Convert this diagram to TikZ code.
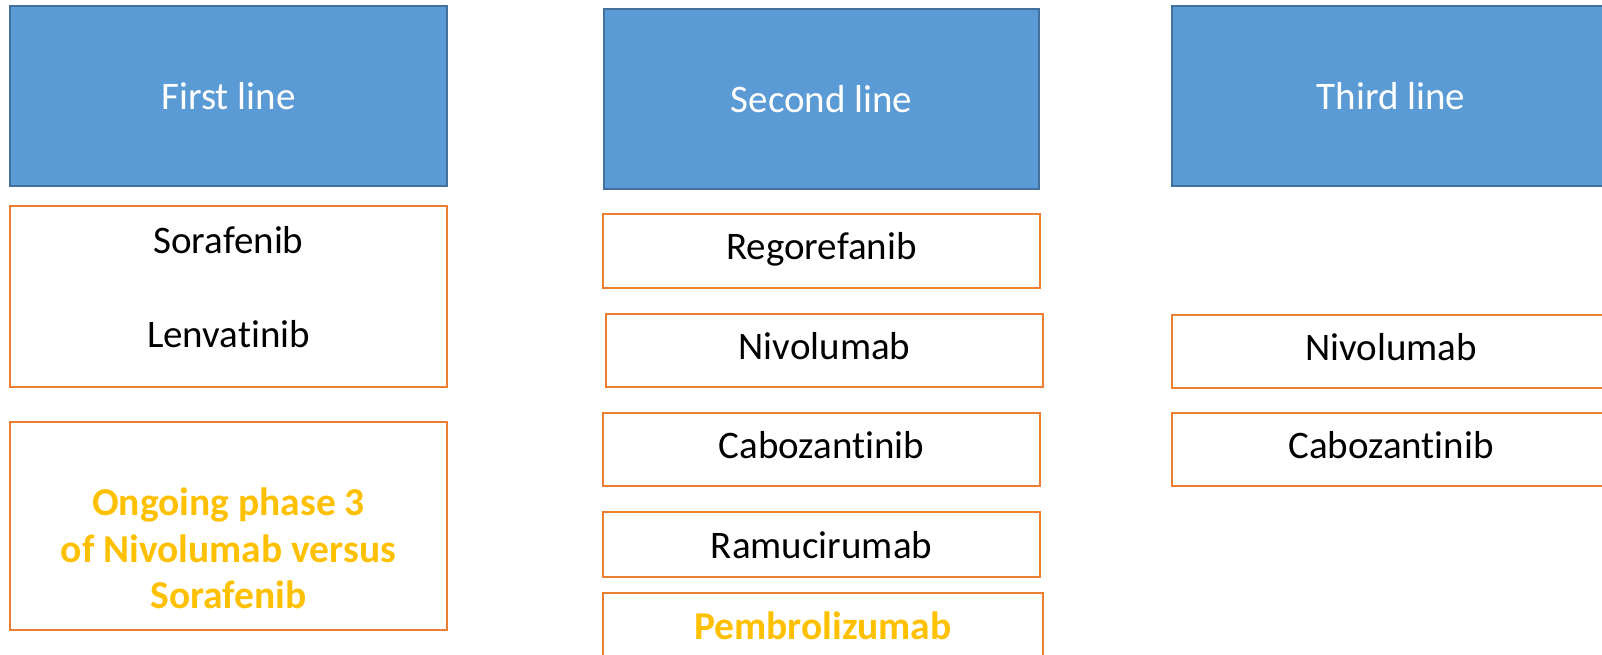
\documentclass[tikz,border=0pt]{standalone}
\usepackage{fontspec}
\setmainfont[Ligatures=NoCommon]{Carlito}
\definecolor{hdrfill}{HTML}{5B9BD5}
\definecolor{hdredge}{HTML}{41719C}
\definecolor{drugedge}{HTML}{ED7D31}
\definecolor{trialtext}{HTML}{FFC000}
\tikzset{
  header/.style={draw=hdredge, fill=hdrfill, line width=1.5pt, text=white,
    font=\fontsize{39}{47}\selectfont, inner sep=0pt},
  drug/.style={draw=drugedge, fill=white, line width=2pt, text=black,
    font=\fontsize{39}{47}\selectfont, inner sep=0pt,
    text height=29pt, text depth=12pt},
  drugtext/.style={anchor=base, text=black, font=\fontsize{39}{47}\selectfont, inner sep=0pt},
  trial/.style={anchor=base, text=trialtext, font=\bfseries\fontsize{39.5}{47}\selectfont, inner sep=0pt},
}
\begin{document}
\begin{tikzpicture}[x=1pt, y=-1pt]
\useasboundingbox (0,0) rectangle (1602,655);
\clip (0,0) rectangle (1602,655);

% column headers
\node[header, minimum width=437pt, minimum height=180pt] (first)  at (228.5,96) {First line};
\node[header, minimum width=435pt, minimum height=180pt] (second) at (821.5,99) {Second line};
\node[header, minimum width=438pt, minimum height=180pt] (third)  at (1391,96)  {Third line};

% first line
\node[drug, minimum width=437pt, minimum height=181pt] (approved) at (228.5,296.5) {};
\node[drugtext] (sorafenib)  at (228.5,253) {Sorafenib};
\node[drugtext] (lenvatinib) at (228.5,347) {Lenvatinib};

\node[drug, minimum width=437pt, minimum height=208pt] (ongoing) at (228.5,526) {};
\node[trial] (trialA) at (228.5,515) {Ongoing phase 3};
\node[trial] (trialB) at (228.5,562) {of Nivolumab versus};
\node[trial] (trialC) at (228.5,608) {Sorafenib};

% second line
\node[drug, minimum width=437pt, minimum height=74pt] (rego)  at (821.5,251)   {Regorefanib};
\node[drug, minimum width=437pt, minimum height=73pt] (nivoB) at (824.5,350.5) {Nivolumab};
\node[drug, minimum width=437pt, minimum height=73pt] (caboB) at (821.5,449.5) {Cabozantinib};
\node[drug, minimum width=437pt, minimum height=65pt, text depth=2pt] (ramu) at (821.5,544.5) {Ramucirumab};
\node[drug, minimum width=440pt, minimum height=67pt, text depth=4pt, text=trialtext,
      font=\bfseries\fontsize{39.5}{47}\selectfont] (pembro) at (823,626.5) {Pembrolizumab};

% third line
\node[drug, minimum width=438pt, minimum height=73pt] (nivoC) at (1391,351.5) {Nivolumab};
\node[drug, minimum width=438pt, minimum height=73pt] (caboC) at (1391,449.5) {Cabozantinib};
\end{tikzpicture}
\end{document}
